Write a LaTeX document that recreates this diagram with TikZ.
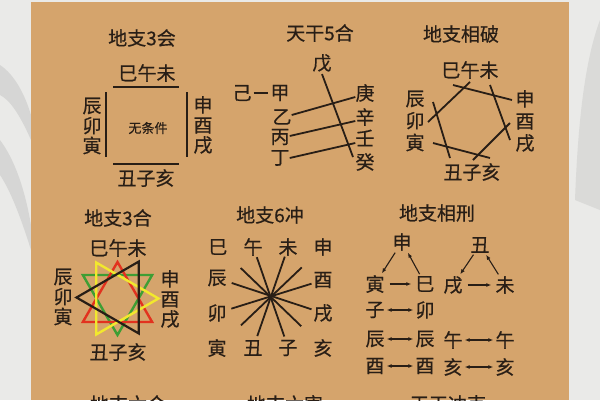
\documentclass[tikz,border=0pt]{standalone}
\usepackage{fontspec}
\setmainfont{Noto Sans CJK SC}[FakeBold=0.5]
\usetikzlibrary{arrows.meta,calc}
\definecolor{di}{RGB}{213,164,108}
\definecolor{hui}{RGB}{234,234,232}
\definecolor{mo}{RGB}{40,30,22}
\definecolor{huang}{RGB}{242,232,45}
\definecolor{hong}{RGB}{226,50,30}
\definecolor{lv}{RGB}{62,158,52}
\newcommand\zihao{\fontsize{19pt}{20pt}\selectfont}
\tikzset{
  zi/.style={inner sep=0pt,text=mo,font=\zihao},
  lie/.style={zi,align=center},
  bi/.style={draw=mo,line width=2.2pt},
  xi/.style={draw=mo,line width=1.8pt},
  jian/.style={draw=mo,line width=1.1pt,>={Latex[length=5pt,width=4pt]},->,shorten <=2pt,shorten >=2pt},
  shuang/.style={jian,<->}
}
\begin{document}
\begin{tikzpicture}[x=1pt,y=-1pt]
\useasboundingbox (0,0) rectangle (600,400);
\clip (0,0) rectangle (600,400);
\fill[hui] (0,0) rectangle (600,400);
\fill[gray,opacity=.18] (0,65) .. controls (15,75) and (25,95) .. (31,115) -- (31,140) .. controls (20,115) and (10,100) .. (0,95) -- cycle;
\fill[gray,opacity=.18] (0,140) .. controls (15,160) and (25,190) .. (31,225) -- (31,250) .. controls (20,215) and (10,190) .. (0,175) -- cycle;
\fill[gray,opacity=.15] (600,20) .. controls (585,60) and (578,120) .. (575,200) -- (600,210) -- cycle;
\fill[di] (31,2) rectangle (569,400);
% 地支3会
\node[zi] (t1) at (142,38) {地支3会};
\node[zi] (hs) at (147,73) {巳午未};
\node[lie] (hl) at (92,126) {辰\\卯\\寅};
\node[lie] (hr) at (203,125) {申\\酉\\戌};
\node[zi] (hb) at (146,178) {丑子亥};
\node[zi,font=\fontsize{13pt}{14pt}\selectfont] (wtj) at (148,128) {无条件};
\draw[bi] (113,87) -- (179,87);
\draw[bi] (113,164) -- (179,164);
\draw[bi] (106,92) -- (106,157);
\draw[bi] (187,92) -- (187,157);
% 天干5合
\node[zi] (t2) at (320,33) {天干5合};
\node[zi] (wu) at (322,63) {戊};
\node[zi] (ji) at (242,93) {己};
\node[zi] (jia) at (280,93) {甲};
\node[zi] (yi) at (282,117) {乙};
\node[zi] (bing) at (280,137) {丙};
\node[zi] (ding) at (280,158) {丁};
\node[zi] (geng) at (365,93) {庚};
\node[zi] (xin) at (365,117) {辛};
\node[zi] (ren) at (365,138) {壬};
\node[zi] (gui) at (365,162) {癸};
\draw[draw=mo,line width=2.6pt,shorten <=2pt,shorten >=2pt] (ji) -- (jia);
\draw[xi] ([yshift=-2pt]wu.south) -- ([xshift=-12pt,yshift=5pt]gui.center);
\draw[xi] ([yshift=2pt]yi.east) -- ([yshift=-4pt]geng.west);
\draw[xi] ([yshift=1pt]bing.east) -- ([yshift=-4pt]xin.west);
\draw[xi] (ding.east) -- ([yshift=-5pt]ren.west);
% 地支相破
\node[zi] (t3) at (461,34) {地支相破};
\node[zi] (ps) at (470,70) {巳午未};
\node[lie,font=\fontsize{19pt}{22pt}\selectfont] (pl) at (415,121) {辰\\卯\\寅};
\node[lie,font=\fontsize{19pt}{22pt}\selectfont] (pr) at (525,121) {申\\酉\\戌};
\node[zi] (pb) at (472,172) {丑子亥};
\draw[xi] (453,85) -- (512,100);
\draw[xi] (470,82) -- (428,122);
\draw[xi] (490,85) -- (510,140);
\draw[xi] (433,102) -- (450,158);
\draw[xi] (433,143) -- (490,158);
\draw[xi] (510,123) -- (473,160);
% 地支3合
\node[zi] (t4) at (118,218) {地支3合};
\node[zi] (xs) at (118,248) {巳午未};
\node[lie] (xl) at (63,297) {辰\\卯\\寅};
\node[lie] (xr) at (170,299) {申\\酉\\戌};
\node[zi] (xb) at (118,352) {丑子亥};
\coordinate (xg) at (117.5,295);
\coordinate (xh) at (117.5,302);
\coordinate (xy) at (117,298.5);
\coordinate (xk) at (118,297.5);
\draw[xi,draw=lv,line width=2.4pt] ($(xg)+(90:40)$) -- ($(xg)+(210:40)$) -- ($(xg)+(330:40)$) -- cycle;
\draw[xi,draw=hong,line width=2.4pt] ($(xh)+(270:40)$) -- ($(xh)+(30:40)$) -- ($(xh)+(150:40)$) -- cycle;
\draw[xi,draw=huang,line width=2.4pt] ($(xy)+(0:41.5)$) -- ($(xy)+(120:41.5)$) -- ($(xy)+(240:41.5)$) -- cycle;
\draw[xi,line width=2.2pt] ($(xk)+(180:41.5)$) -- ($(xk)+(60:41.5)$) -- ($(xk)+(300:41.5)$) -- cycle;
% 地支6冲
\node[zi] (t5) at (270,215) {地支6冲};
\node[zi] (csi) at (218,247) {巳};
\node[zi] (cwu) at (253,247) {午};
\node[zi] (cwei) at (288,247) {未};
\node[zi] (cshen) at (323,247) {申};
\node[zi] (cchen) at (217,278) {辰};
\node[zi] (cyou) at (323,280) {酉};
\node[zi] (cmao) at (217,313) {卯};
\node[zi] (cxu) at (323,313) {戌};
\node[zi] (cyin) at (217,348) {寅};
\node[zi] (cchou) at (253,348) {丑};
\node[zi] (czi) at (288,348) {子};
\node[zi] (chai) at (323,348) {亥};
\coordinate (cz) at (271.5,296.5);
\foreach \a/\b in {cwu/czi,cwei/cchou,csi/chai,cshen/cyin,cchen/cxu,cyou/cmao}
  \draw[xi] ($(cz)!42pt!(\a)$) -- ($(cz)!42pt!(\b)$);
% 地支相刑
\node[zi] (t6) at (437,213) {地支相刑};
\node[zi] (shen) at (402,242) {申};
\node[zi] (chou) at (480,245) {丑};
\node[zi] (yin) at (375,284) {寅};
\node[zi] (si) at (425,284) {巳};
\node[zi] (xu) at (453,285) {戌};
\node[zi] (wei) at (505,285) {未};
\node[zi] (zi1) at (375,310) {子};
\node[zi] (mao) at (425,310) {卯};
\node[zi] (chen1) at (375,339) {辰};
\node[zi] (chen2) at (425,339) {辰};
\node[zi] (wu1) at (453,340) {午};
\node[zi] (wu2) at (505,340) {午};
\node[zi] (you1) at (375,366) {酉};
\node[zi] (you2) at (425,366) {酉};
\node[zi] (hai1) at (453,367) {亥};
\node[zi] (hai2) at (505,367) {亥};
\draw[jian] (shen) -- (yin);
\draw[jian,shorten <=5pt,shorten >=4pt] (yin) -- (si);
\draw[jian] (si) -- (shen);
\draw[jian] (chou) -- (xu);
\draw[jian,shorten <=5pt,shorten >=4pt] (xu) -- (wei);
\draw[jian] (wei) -- (chou);
\draw[shuang] (zi1) -- (mao);
\draw[shuang] (chen1) -- (chen2);
\draw[shuang] (you1) -- (you2);
\draw[shuang] (wu1) -- (wu2);
\draw[shuang] (hai1) -- (hai2);
% 下一排
\node[zi] (t7) at (128,404) {地支六合};
\node[zi] (t8) at (285,404) {地支六害};
\node[zi] (t9) at (448,404) {天干冲克};
\end{tikzpicture}
\end{document}
